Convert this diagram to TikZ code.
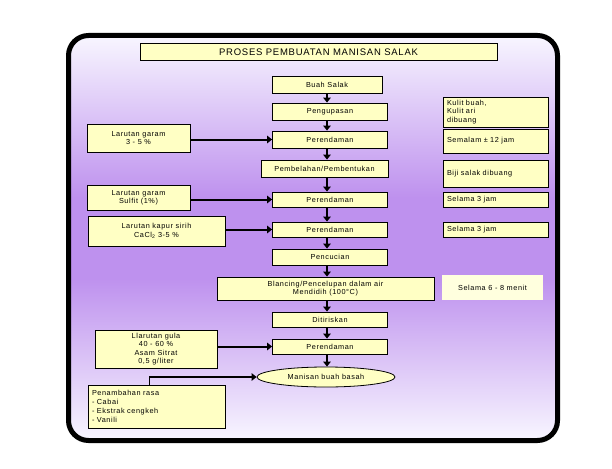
\documentclass[tikz,border=0pt]{standalone}
\usepackage{fontspec}
\setmainfont[LetterSpace=8]{Liberation Sans}
\usetikzlibrary{arrows.meta,shapes.geometric}
\definecolor{bgtop}{RGB}{248,246,255}
\definecolor{bgmid}{RGB}{190,145,238}
\definecolor{boxfill}{RGB}{255,255,196}
\definecolor{notefill}{RGB}{255,255,222}
\pgfdeclareverticalshading{bgshade}{100bp}{color(0bp)=(bgtop); color(25bp)=(bgtop); color(45bp)=(bgmid); color(55bp)=(bgmid); color(75bp)=(bgtop); color(100bp)=(bgtop)}
\begin{document}
\begin{tikzpicture}[x=1pt,y=-1pt,
  box/.style={draw, line width=0.8pt, fill=boxfill, inner sep=1pt, font=\fontsize{7.3}{8.5}\selectfont, align=center},
  mainbox/.style={box, minimum width=115pt},
  note/.style={box, align=left, text width=97pt, inner sep=0pt, minimum width=105pt},
  flow/.style={line width=2pt, -{Triangle[length=5pt,width=7.5pt]}}
]
\useasboundingbox (0,0) rectangle (612,468);
\shade[shading=bgshade, rounded corners=20pt] (68.5,35.5) rectangle (557.5,440.5);
\draw[line width=5pt, rounded corners=20pt] (68.5,35.5) rectangle (557.5,440.5);

\node[box, font=\fontsize{9.5}{11}\selectfont, minimum width=357pt, minimum height=17pt] (title) at (318.5,52) {PROSES PEMBUATAN MANISAN SALAK};

% main column
\node[box, minimum width=110pt, minimum height=17pt] (buah) at (327,84.5) {Buah Salak};
\node[mainbox, minimum height=17pt] (peng) at (330,111.5) {Pengupasan};
\node[mainbox, minimum height=17pt] (per1) at (330,139.5) {Perendaman};
\node[box, minimum width=127pt, minimum height=17pt] (pemb) at (324.5,168.5) {Pembelahan/Pembentukan};
\node[mainbox, minimum height=15pt] (per2) at (330,199.5) {Perendaman};
\node[mainbox, minimum height=15pt] (per3) at (330,229.5) {Perendaman};
\node[mainbox, minimum height=16pt] (penc) at (330,257) {Pencucian};
\node[box, minimum width=217pt, minimum height=23pt, inner sep=0pt] (blan) at (325.5,288.5) {Blancing/Pencelupan dalam air\\Mendidih (100°C)};
\node[mainbox, minimum height=15pt] (diti) at (330,319.5) {Ditiriskan};
\node[mainbox, minimum height=15pt] (per4) at (330,346.5) {Perendaman};
\node[box, ellipse, minimum width=138pt, minimum height=20pt, inner sep=0pt] (ell) at (326,377) {Manisan buah basah};

% left inputs
\node[box, minimum width=103pt, minimum height=28pt] (lg1) at (138.5,138) {Larutan garam\\3 - 5 \%};
\node[box, minimum width=103pt, minimum height=25pt] (lg2) at (138.5,197.5) {Larutan garam\\Sulfit (1\%)};
\node[box, minimum width=137pt, minimum height=30pt] (kap) at (156.5,231) {Larutan kapur sirih\\CaCl\textsubscript{2} 3-5 \%};
\node[box, minimum width=122pt, minimum height=38pt, inner sep=0pt, font=\fontsize{7.3}{8.3}\selectfont] (gula) at (156,349) {Llarutan gula\\40 - 60 \%\\Asam Sitrat\\0,5 g/liter};
\node[box, align=left, text width=129pt, minimum width=137pt, minimum height=43pt, inner sep=0pt, font=\fontsize{7.3}{8.8}\selectfont] (pen) at (156.5,406.5) {Penambahan rasa\\- Cabai\\- Ekstrak cengkeh\\- Vanili};

% right notes
\node[note, minimum height=30pt, font=\fontsize{7.3}{8.5}\selectfont] (n1) at (495.5,112) {Kulit buah,\\Kulit ari\\dibuang};
\node[note, minimum height=24pt] (n2) at (495.5,141) {Semalam ± 12 jam\\[4pt]};
\node[note, minimum height=27pt] (n3) at (495.5,173.5) {Biji salak dibuang};
\node[note, minimum height=15pt] (n4) at (495.5,199.5) {Selama 3 jam};
\node[note, minimum height=15pt] (n5) at (495.5,229.5) {Selama 3 jam};
\node[box, draw=none, fill=notefill, minimum width=101pt, minimum height=25pt] (n6) at (492.5,287.5) {Selama 6 - 8 menit};

% main flow arrows
\coordinate (ax) at (327,0);
\foreach \a/\b in {buah/peng, peng/per1, per1/pemb, pemb/per2, per2/per3, per3/penc, penc/blan, blan/diti, diti/per4, per4/ell}
  \draw[flow] (\a.south -| ax) -- (\b.north -| ax);

% input arrows
\draw[flow] (lg1.east |- per1.west) -- (per1.west);
\draw[flow] (lg2.east |- per2.west) -- (per2.west);
\draw[flow] (kap.east |- per3.west) -- (per3.west);
\draw[flow] (gula.east |- per4.west) -- (per4.west);

\coordinate (pk) at (149,377);
\draw[line width=0.8pt] ([xshift=-7.5pt]pen.north) -- (pk);
\draw[flow] (pk) -- (ell.west);
\end{tikzpicture}
\end{document}
